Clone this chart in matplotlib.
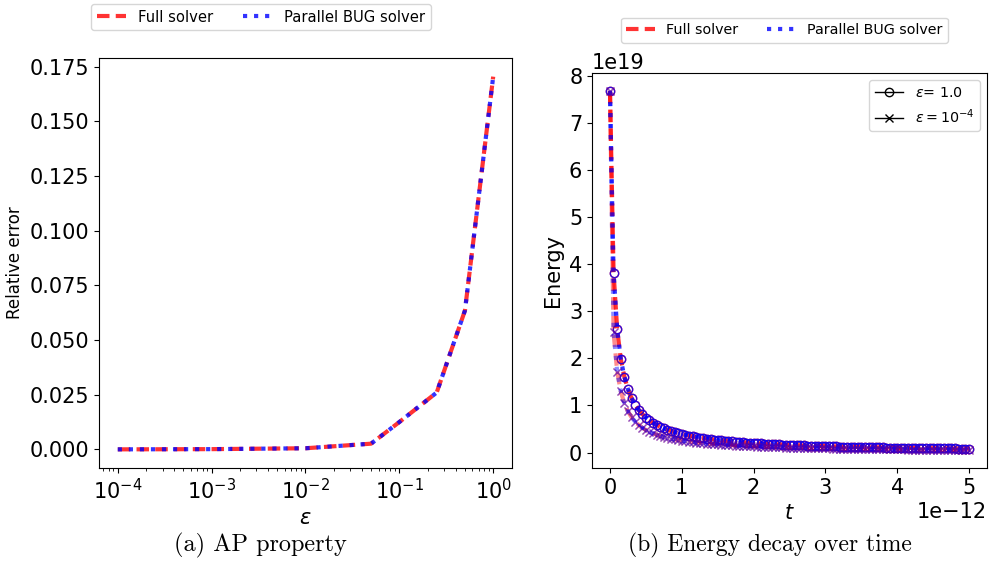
import numpy as np
import matplotlib
matplotlib.use("Agg")
import matplotlib.pyplot as plt
from matplotlib.lines import Line2D
from matplotlib.ticker import MultipleLocator

# ---------------- data ----------------
eps_values = [1e-4, 1e-3, 1e-2, 5e-2, 1e-1, 2.5e-1, 5e-1, 1.0]
err_full = [0.0, 0.0001, 0.0005, 0.0026, 0.0125, 0.026, 0.0635, 0.1705]
err_bug = [0.0, 0.0001, 0.0005, 0.0026, 0.0125, 0.026, 0.0635, 0.1705]

t_values = np.linspace(0.0, 5e-12, 101)
t_ticks = [0.0, 1e-12, 2e-12, 3e-12, 4e-12, 5e-12]
energy_ticks = [0, 1e19, 2e19, 3e19, 4e19, 5e19, 6e19, 7e19, 8e19]

energy_eps1 = [
    7.68, 3.82, 2.62, 1.99, 1.61, 1.345, 1.158, 1.016, 0.905, 0.816,
    0.743, 0.682, 0.630, 0.586, 0.547, 0.513, 0.483, 0.457, 0.433, 0.412,
    0.392, 0.374, 0.358, 0.343, 0.330, 0.317, 0.305, 0.295, 0.285, 0.275,
    0.266, 0.258, 0.250, 0.243, 0.236, 0.229, 0.223, 0.217, 0.212, 0.207,
    0.202, 0.197, 0.192, 0.188, 0.184, 0.180, 0.176, 0.172, 0.169, 0.165,
    0.162, 0.159, 0.156, 0.153, 0.150, 0.148, 0.145, 0.143, 0.140, 0.138,
    0.136, 0.1335, 0.1314, 0.1293, 0.1274, 0.1254, 0.1236, 0.1218, 0.1200, 0.1183,
    0.1166, 0.1150, 0.1134, 0.1119, 0.1104, 0.1090, 0.1076, 0.1062, 0.1048, 0.1035,
    0.1023, 0.1010, 0.0998, 0.0986, 0.0975, 0.0963, 0.0952, 0.0941, 0.0931, 0.0921,
    0.0910, 0.0901, 0.0891, 0.0881, 0.0872, 0.0863, 0.0854, 0.0845, 0.0837, 0.0829,
    0.0820,
]
energy_eps4 = [
    7.68, 2.55, 1.72, 1.30, 1.043, 0.872, 0.749, 0.656, 0.584, 0.526,
    0.478, 0.439, 0.405, 0.376, 0.351, 0.330, 0.310, 0.293, 0.278, 0.264,
    0.251, 0.240, 0.230, 0.220, 0.211, 0.203, 0.196, 0.189, 0.182, 0.176,
    0.171, 0.165, 0.160, 0.156, 0.151, 0.147, 0.143, 0.139, 0.136, 0.132,
    0.129, 0.126, 0.123, 0.120, 0.118, 0.115, 0.113, 0.110, 0.108, 0.106,
    0.104, 0.102, 0.0998, 0.0980, 0.0962, 0.0945, 0.0929, 0.0913, 0.0897, 0.0882,
    0.0868, 0.0854, 0.0840, 0.0827, 0.0814, 0.0802, 0.0790, 0.0778, 0.0767, 0.0756,
    0.0746, 0.0735, 0.0725, 0.0715, 0.0706, 0.0697, 0.0688, 0.0679, 0.0670, 0.0662,
    0.0654, 0.0646, 0.0638, 0.0631, 0.0623, 0.0616, 0.0609, 0.0602, 0.0595, 0.0588,
    0.0582, 0.0576, 0.0569, 0.0563, 0.0557, 0.0552, 0.0546, 0.0540, 0.0535, 0.0530,
    0.0524,
]
energy_scale = 1e19

solver_labels = ["Full solver", "Parallel BUG solver"]
eps_labels = [r"$\varepsilon$= 1.0", r"$\varepsilon = 10^{-4}$"]
captions = ["(a) AP property", "(b) Energy decay over time"]

# ---------------- styles ----------------
RED = "red"
BLUE = "blue"
dash_style = (0, (3.0, 1.5))

fig = plt.figure(figsize=(9.92, 5.71), dpi=100)

# ---------------- left panel ----------------
ax1 = fig.add_axes([0.0998, 0.1804, 0.4163, 0.718])
ax1.plot(eps_values, err_full, color=RED, linestyle=dash_style, lw=3, alpha=0.8)
ax1.plot(eps_values, err_bug, color=BLUE, linestyle=":", lw=3, alpha=0.8)
ax1.set_xscale("log")
ax1.yaxis.set_major_locator(MultipleLocator(0.025))
ax1.tick_params(labelsize=15)
ax1.set_xlabel(r"$\varepsilon$", fontsize=15)
ax1.set_ylabel("Relative error", fontsize=12)

# ---------------- right panel ----------------
ax2 = fig.add_axes([0.5968, 0.1804, 0.3982, 0.6918])
e1 = np.array(energy_eps1) * energy_scale
e4 = np.array(energy_eps4) * energy_scale
ms = 6
ax2.plot(t_values, e1, color=RED, linestyle=dash_style, lw=3, alpha=0.8,
         marker="o", markersize=ms, fillstyle="none", markeredgewidth=1)
ax2.plot(t_values, e1, color=BLUE, linestyle=":", lw=3, alpha=0.8,
         marker="o", markersize=ms, fillstyle="none", markeredgewidth=1)
ax2.plot(t_values, e4, color=RED, linestyle=dash_style, lw=3, alpha=0.45,
         marker="x", markersize=ms, markeredgewidth=1)
ax2.plot(t_values, e4, color=BLUE, linestyle=":", lw=3, alpha=0.45,
         marker="x", markersize=ms, markeredgewidth=1)
ax2.set_xticks(t_ticks)
ax2.set_yticks(energy_ticks)
ax2.tick_params(labelsize=15)
ax2.xaxis.get_offset_text().set_fontsize(15)
ax2.yaxis.get_offset_text().set_fontsize(15)
ax2.set_xlabel(r"$t$", fontsize=15)
ax2.set_ylabel("Energy", fontsize=15)

eps_handles = [
    Line2D([], [], color="black", lw=1, marker="o", fillstyle="none", markersize=6),
    Line2D([], [], color="black", lw=1, marker="x", markersize=6),
]
ax2.legend(eps_handles, eps_labels, loc="upper right", fontsize=10.3)

# ---------------- solver legends ----------------
def solver_handles():
    return [
        Line2D([], [], color=RED, linestyle=dash_style, lw=3, alpha=0.8),
        Line2D([], [], color=BLUE, linestyle=":", lw=3, alpha=0.8),
    ]

fig.legend(solver_handles(), solver_labels, ncol=2, fontsize=10.6,
           loc="center", bbox_to_anchor=(261 / 992, 1 - 17 / 571))
fig.legend(solver_handles(), solver_labels, ncol=2, fontsize=10.3,
           loc="center", bbox_to_anchor=(784.5 / 992, 1 - 30.3 / 571))

# ---------------- captions ----------------
fig.text(260 / 992, 1 - 545 / 571, captions[0], fontsize=17.5,
         family="cmr10", ha="center", va="center")
fig.text(770 / 992, 1 - 545 / 571, captions[1], fontsize=17,
         family="cmr10", ha="center", va="center")

fig.savefig("out.png", dpi=100)
